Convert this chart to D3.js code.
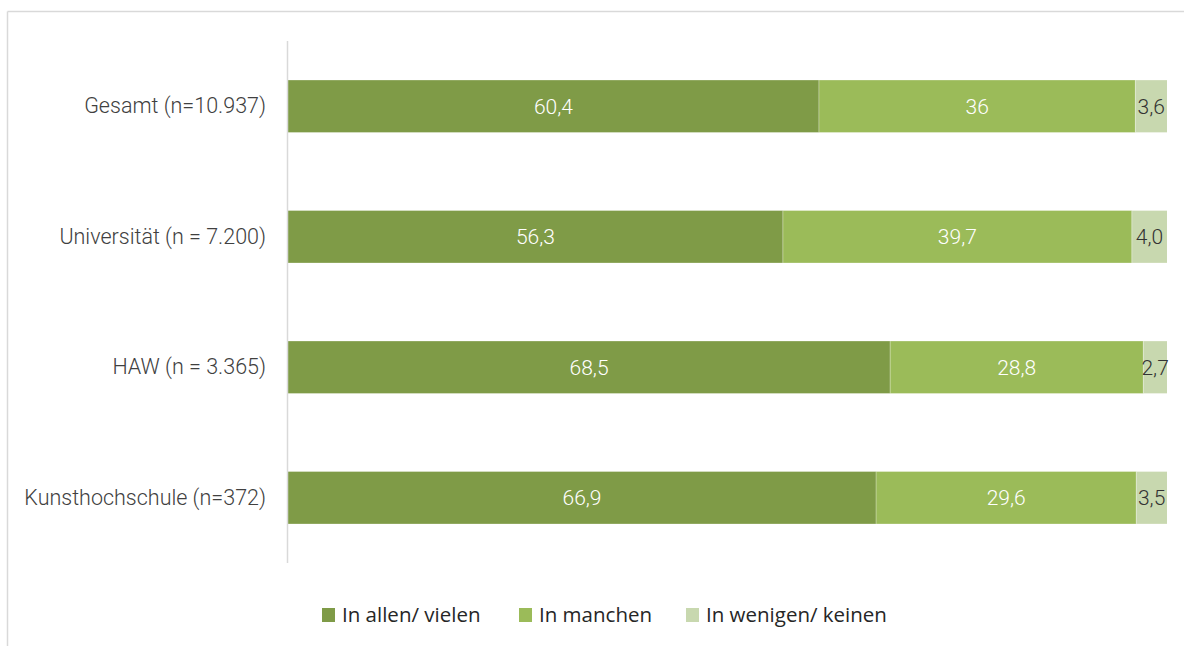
<!DOCTYPE html>
<html><head><meta charset="utf-8">
<script src="https://cdn.jsdelivr.net/npm/d3@7"></script>
<style>
html,body{margin:0;padding:0;background:#fff;}
svg{display:block;}
</style></head>
<body>
<svg id="chart" width="1184" height="646"></svg>
<script>
const categories = ["Gesamt (n=10.937)", "Universität (n = 7.200)", "HAW (n = 3.365)", "Kunsthochschule (n=372)"];
const seriesNames = ["In allen/ vielen", "In manchen", "In wenigen/ keinen"];
const allenVielen = [60.4, 56.3, 68.5, 66.9];
const manchen = [36.0, 39.7, 28.8, 29.6];
const wenigenKeinen = [3.6, 4.0, 2.7, 3.5];
const labelsAllen = ["60,4", "56,3", "68,5", "66,9"];
const labelsManchen = ["36", "39,7", "28,8", "29,6"];
const labelsWenigen = ["3,6", "4,0", "2,7", "3,5"];
const colors = ["#7F9B47", "#9BBB59", "#C8D8AF"];
const labelColors = ["#ffffff", "#ffffff", "#333333"];

const svg = d3.select("#chart");
const W = 1184, H = 646;

// frame
svg.append("line").attr("x1", 7.5).attr("x2", W).attr("y1", 11.5).attr("y2", 11.5).attr("stroke", "#d9d9d9").attr("stroke-width", 1.5);
svg.append("line").attr("x1", 7.5).attr("x2", 7.5).attr("y1", 11.5).attr("y2", H).attr("stroke", "#d9d9d9").attr("stroke-width", 1.5);

const x = d3.scaleLinear().domain([0, 100]).range([288, 1167]);
const y = d3.scaleBand().domain(categories).range([41, 563]).paddingInner(0.6).paddingOuter(0.3);

const seriesVals = [allenVielen, manchen, wenigenKeinen];
const seriesLabels = [labelsAllen, labelsManchen, labelsWenigen];
const rows = categories.map((c, i) => {
  const o = {cat: c};
  seriesNames.forEach((s, j) => o[s] = seriesVals[j][i]);
  return o;
});
const stacked = d3.stack().keys(seriesNames)(rows);

const labelFont = "Roboto, 'Liberation Sans', sans-serif";

stacked.forEach((layer, j) => {
  const g = svg.append("g");
  g.selectAll("rect").data(layer).join("rect")
    .attr("x", d => x(d[0]))
    .attr("y", d => y(d.data.cat))
    .attr("width", d => x(d[1]) - x(d[0]))
    .attr("height", y.bandwidth())
    .attr("fill", colors[j]);
});

// segment separators (thin white)
stacked.slice(1).forEach(layer => {
  svg.append("g").selectAll("line").data(layer).join("line")
    .attr("x1", d => x(d[0])).attr("x2", d => x(d[0]))
    .attr("y1", d => y(d.data.cat)).attr("y2", d => y(d.data.cat) + y.bandwidth())
    .attr("stroke", "#ffffff").attr("stroke-opacity", 0.35).attr("stroke-width", 1);
});

stacked.forEach((layer, j) => {
  svg.append("g").selectAll("text").data(layer).join("text")
    .attr("x", d => (x(d[0]) + x(d[1])) / 2)
    .attr("y", d => y(d.data.cat) + y.bandwidth() / 2)
    .attr("dy", "0.36em")
    .attr("text-anchor", "middle")
    .attr("fill", labelColors[j])
    .style("font-family", labelFont)
    .style("font-weight", 300)
    .style("font-size", "21px")
    .text((d, i) => seriesLabels[j][i]);
});

// axis
const yAxis = d3.axisLeft(y).tickSize(0).tickPadding(21);
const ag = svg.append("g").attr("transform", "translate(287,0)").call(yAxis);
ag.select(".domain").remove();
ag.attr("fill", null).attr("font-family", null).attr("font-size", null);
ag.selectAll("text")
  .style("font-family", labelFont)
  .style("font-weight", 300)
  .style("font-size", "21.5px")
  .attr("fill", "#404040");
svg.append("line").attr("x1", 287.5).attr("x2", 287.5).attr("y1", 41).attr("y2", 563).attr("stroke", "#d9d9d9").attr("stroke-width", 1.5);

// legend
const legendX = [322, 519, 686];
const lg = svg.append("g");
seriesNames.forEach((s, j) => {
  lg.append("rect").attr("x", legendX[j]).attr("y", 608).attr("width", 13).attr("height", 14).attr("fill", colors[j]);
  lg.append("text").attr("x", legendX[j] + 20).attr("y", 622)
    .style("font-family", "'Open Sans', sans-serif").style("font-size", "20.5px")
    .attr("fill", "#262626").text(s);
});
</script>
</body></html>
